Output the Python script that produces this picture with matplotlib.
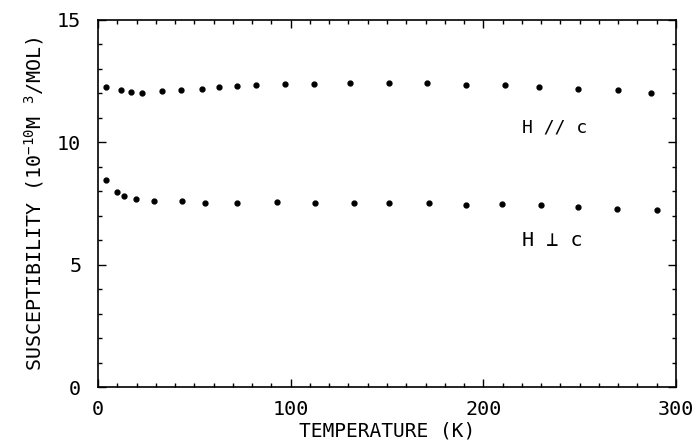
import matplotlib
matplotlib.use("Agg")
import matplotlib.pyplot as plt
from matplotlib.ticker import MultipleLocator

# H // c
t_par = [4, 12, 17, 23, 33, 43, 54, 63, 72, 82, 97, 112, 131, 151, 171, 191, 211, 229, 249, 270, 287]
chi_par = [12.27, 12.13, 12.06, 12.03, 12.11, 12.14, 12.18, 12.25, 12.32, 12.33, 12.38, 12.38,
           12.42, 12.42, 12.41, 12.34, 12.33, 12.26, 12.18, 12.13, 12.03]

# H perp c
t_perp = [4, 9.7, 13.3, 19.8, 29.3, 43.5, 55.7, 72.1, 92.9, 112.6, 133, 151, 171.6, 191.1,
          209.5, 230.1, 249.3, 269.4, 289.9]
chi_perp = [8.47, 7.98, 7.82, 7.70, 7.60, 7.60, 7.52, 7.53, 7.56, 7.52, 7.53, 7.53, 7.53, 7.45,
            7.47, 7.43, 7.36, 7.29, 7.22]

x_ticks = [0, 100, 200, 300]
y_ticks = [0, 5, 10, 15]
x_label = "TEMPERATURE (K)"
y_label = r"SUSCEPTIBILITY (10$^{-10}$M $^{3}$/MOL)"
label_par = "H // c"
label_perp = "H \u22a5 c"

plt.rcParams["font.family"] = ["DejaVu Sans Mono", "DejaVu Sans"]
plt.rcParams["mathtext.default"] = "regular"
fig = plt.figure(figsize=(6.98, 4.42), dpi=100)
ax = fig.add_axes([0.1404, 0.1244, 0.8281, 0.8304])

ax.plot(t_par, chi_par, "o", color="black", markersize=3.5, linestyle="none")
ax.plot(t_perp, chi_perp, "o", color="black", markersize=3.5, linestyle="none")

ax.set_xlim(0, 300)
ax.set_ylim(0, 15)
ax.set_xticks(x_ticks)
ax.set_yticks(y_ticks)
ax.xaxis.set_minor_locator(MultipleLocator(10))
ax.yaxis.set_minor_locator(MultipleLocator(1))
ax.tick_params(which="both", direction="in", top=True, right=True, labelsize=14.5)
ax.tick_params(axis="x", which="major", pad=9)
ax.tick_params(axis="y", which="major", pad=12)
ax.tick_params(which="major", length=6, width=1)
ax.tick_params(which="minor", length=3, width=1)
for s in ax.spines.values():
    s.set_linewidth(1.2)

ax.set_xlabel(x_label, fontsize=14, labelpad=2)
ax.set_ylabel(y_label, fontsize=14.4, labelpad=8)

ax.text(220, 10.6, label_par, fontsize=13, ha="left", va="center")
ax.text(220, 6.0, label_perp, fontsize=14.5, ha="left", va="center")

fig.savefig("out.png", dpi=100)
